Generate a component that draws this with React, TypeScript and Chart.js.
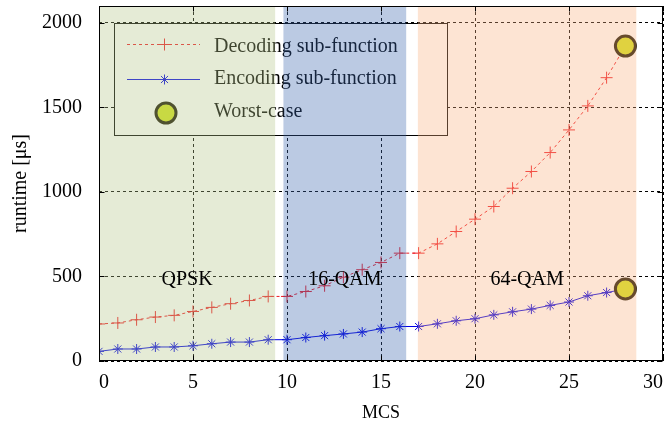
import React, { useEffect, useRef } from 'react';
import { Chart, registerables } from 'chart.js';

Chart.register(...registerables);

// ---- data ----
const mcs = [0, 1, 2, 3, 4, 5, 6, 7, 8, 9, 10, 11, 12, 13, 14, 15, 16, 17, 18, 19, 20, 21, 22, 23, 24, 25, 26, 27, 28];
const decoding = [219, 225, 244, 260, 270, 293, 317, 339, 358, 382, 382, 411, 445, 496, 540, 583, 638, 638, 693, 766, 839, 914, 1022, 1121, 1233, 1367, 1509, 1676, 1863];
const encoding = [57, 71, 71, 83, 83, 90, 102, 112, 112, 126, 126, 139, 150, 160, 171, 191, 204, 204, 220, 238, 250, 273, 291, 307, 329, 349, 386, 405, 426];
const worstX = [28, 28];
const worstY = [1863, 426];

const regionNames = ['QPSK', '16-QAM', '64-QAM'];
const regionStart = [0, 9.81, 16.96];
const regionEnd = [9.37, 16.34, 28.58];

const legendLabels = ['Decoding sub-function', 'Encoding sub-function', 'Worst-case'];
const xTicks = [0, 5, 10, 15, 20, 25, 30];
const yTicks = [0, 500, 1000, 1500, 2000];
const xMin = 0;
const xMax = 30;
const yMin = 0;
const yMax = 2100;

// ---- styles ----
const FONT = "'Liberation Serif', 'Times New Roman', serif";
const regionColors = ['rgb(181,198,138)', 'rgb(60,104,175)', 'rgb(250,178,130)'];
const OVERLAY_ALPHA = 0.35;
const REGION_LABEL_VALUE = 480;
const RED = '#ee1c25';
const BLUE = '#0000e6';
const YELLOW = '#d3e31e';
const DARK = '#1a1400';

function drawCross(ctx: CanvasRenderingContext2D, x: number, y: number, r: number) {
  ctx.beginPath();
  ctx.moveTo(x - r, y);
  ctx.lineTo(x + r, y);
  ctx.moveTo(x, y - r);
  ctx.lineTo(x, y + r);
  ctx.stroke();
}

function drawStar(ctx: CanvasRenderingContext2D, x: number, y: number, r: number) {
  drawCross(ctx, x, y, r);
  const d = r * Math.SQRT1_2;
  ctx.beginPath();
  ctx.moveTo(x - d, y - d);
  ctx.lineTo(x + d, y + d);
  ctx.moveTo(x - d, y + d);
  ctx.lineTo(x + d, y - d);
  ctx.stroke();
}

const overlayPlugin = {
  id: 'overlayPlugin',
  afterDraw(chart: any) {
    const { ctx, chartArea: a, scales } = chart;
    const xs = scales.x;
    const ys = scales.y;
    ctx.save();

    // legend box (white, under the translucent patches)
    const L = { left: 114, top: 23, right: 447, bottom: 135 };
    ctx.fillStyle = '#ffffff';
    ctx.fillRect(L.left, L.top, L.right - L.left, L.bottom - L.top);
    ctx.strokeStyle = '#000';
    ctx.lineWidth = 1;
    ctx.setLineDash([]);
    ctx.strokeRect(L.left + 0.5, L.top + 0.5, L.right - L.left, L.bottom - L.top);

    const rowY = [44, 79, 113];
    const textY = [47, 79, 112];
    ctx.strokeStyle = RED;
    ctx.lineWidth = 1;
    ctx.setLineDash([3, 3]);
    ctx.beginPath();
    ctx.moveTo(127, rowY[0] + 0.5);
    ctx.lineTo(200, rowY[0] + 0.5);
    ctx.stroke();
    ctx.setLineDash([]);
    drawCross(ctx, 164.5, rowY[0] + 0.5, 6);
    ctx.strokeStyle = BLUE;
    ctx.beginPath();
    ctx.moveTo(127, rowY[1] + 0.5);
    ctx.lineTo(200, rowY[1] + 0.5);
    ctx.stroke();
    drawStar(ctx, 164.5, rowY[1] + 0.5, 5);
    ctx.beginPath();
    ctx.arc(166, rowY[2], 10, 0, Math.PI * 2);
    ctx.fillStyle = YELLOW;
    ctx.fill();
    ctx.lineWidth = 3;
    ctx.strokeStyle = DARK;
    ctx.stroke();

    ctx.fillStyle = '#000';
    ctx.font = `20px ${FONT}`;
    ctx.textAlign = 'left';
    ctx.textBaseline = 'middle';
    legendLabels.forEach((t, i) => ctx.fillText(t, 214, textY[i]));

    // translucent modulation regions
    ctx.globalAlpha = OVERLAY_ALPHA;
    regionNames.forEach((_, i) => {
      const x0 = Math.max(a.left, xs.getPixelForValue(regionStart[i]));
      const x1 = Math.min(a.right, xs.getPixelForValue(regionEnd[i]));
      ctx.fillStyle = regionColors[i];
      ctx.fillRect(x0, a.top, x1 - x0, a.bottom - a.top);
    });
    ctx.globalAlpha = 1;

    // region labels
    ctx.fillStyle = '#000';
    ctx.font = `20px ${FONT}`;
    ctx.textAlign = 'center';
    ctx.textBaseline = 'middle';
    regionNames.forEach((name, i) => {
      const cx = xs.getPixelForValue((regionStart[i] + regionEnd[i]) / 2);
      ctx.fillText(name, cx, ys.getPixelForValue(REGION_LABEL_VALUE));
    });

    // frame
    ctx.strokeStyle = '#000';
    ctx.lineWidth = 1;
    ctx.setLineDash([]);
    const l = Math.round(a.left) + 0.5;
    const r = Math.round(a.right) - 0.5;
    const t = Math.round(a.top) + 0.5;
    const b = Math.round(a.bottom) - 0.5;
    ctx.strokeRect(l, t, r - l, b - t);

    // inward tick marks
    const TL = 5;
    ctx.beginPath();
    xTicks.forEach((v) => {
      const px = Math.round(xs.getPixelForValue(v)) + 0.5;
      ctx.moveTo(px, b);
      ctx.lineTo(px, b - TL);
      ctx.moveTo(px, t);
      ctx.lineTo(px, t + TL);
    });
    yTicks.forEach((v) => {
      const py = Math.round(ys.getPixelForValue(v)) + 0.5;
      ctx.moveTo(l, py);
      ctx.lineTo(l + TL, py);
      ctx.moveTo(r, py);
      ctx.lineTo(r - TL, py);
    });
    ctx.stroke();

    ctx.restore();
  },
};

export default function App() {
  const canvasRef = useRef<HTMLCanvasElement | null>(null);

  useEffect(() => {
    const canvas = canvasRef.current;
    if (!canvas) return;
    const chart = new Chart(canvas, {
      type: 'line',
      data: {
        datasets: [
          {
            label: legendLabels[2],
            data: worstX.map((x, i) => ({ x, y: worstY[i] })),
            showLine: false,
            pointStyle: 'circle',
            pointRadius: 10,
            pointBackgroundColor: YELLOW,
            pointBorderColor: DARK,
            pointBorderWidth: 3,
            order: 0,
          },
          {
            label: legendLabels[0],
            data: mcs.map((x, i) => ({ x, y: decoding[i] })),
            borderColor: RED,
            borderWidth: 1,
            borderDash: [3, 3],
            pointStyle: 'cross',
            pointRadius: 6,
            pointBorderColor: RED,
            pointBorderWidth: 1,
            fill: false,
            tension: 0,
            order: 1,
          },
          {
            label: legendLabels[1],
            data: mcs.map((x, i) => ({ x, y: encoding[i] })),
            borderColor: BLUE,
            borderWidth: 1,
            pointStyle: 'star',
            pointRadius: 5,
            pointBorderColor: BLUE,
            pointBorderWidth: 1,
            fill: false,
            tension: 0,
            order: 2,
          },
        ],
      },
      options: {
        animation: false,
        responsive: false,
        maintainAspectRatio: false,
        layout: { autoPadding: false, padding: { top: 6, right: 5, left: 0, bottom: 0 } },
        plugins: {
          legend: { display: false },
          tooltip: { enabled: false },
        },
        scales: {
          x: {
            type: 'linear',
            min: xMin,
            max: xMax,
            afterBuildTicks: (s: any) => {
              s.ticks = xTicks.map((v) => ({ value: v }));
            },
            afterFit: (s: any) => {
              s.height = 64;
              s.paddingLeft = 0;
              s.paddingRight = 0;
            },
            ticks: {
              autoSkip: false,
              align: 'inner',
              color: '#000',
              font: { family: FONT, size: 20 },
              padding: 10,
              maxRotation: 0,
              callback: (v: any) => String(v),
            },
            grid: { color: '#000', lineWidth: 1, drawTicks: false },
            border: { display: false, dash: [3, 3] },
            title: {
              display: true,
              text: 'MCS',
              color: '#000',
              font: { family: FONT, size: 18 },
              padding: { top: 0, bottom: 1 },
            },
          },
          y: {
            type: 'linear',
            min: yMin,
            max: yMax,
            afterBuildTicks: (s: any) => {
              s.ticks = yTicks.map((v) => ({ value: v }));
            },
            afterFit: (s: any) => {
              s.width = 99;
              s.paddingTop = 0;
              s.paddingBottom = 0;
            },
            ticks: {
              autoSkip: false,
              color: '#000',
              font: { family: FONT, size: 20 },
              padding: 17,
              callback: (v: any) => String(v),
            },
            grid: { color: '#000', lineWidth: 1, drawTicks: false },
            border: { display: false, dash: [3, 3] },
            title: {
              display: true,
              text: 'runtime [μs]',
              color: '#000',
              font: { family: FONT, size: 20 },
              padding: { top: 9, bottom: 0 },
            },
          },
        },
      },
      plugins: [overlayPlugin],
    } as any);
    return () => chart.destroy();
  }, []);

  return (
    <div style={{ position: 'absolute', left: 0, top: 0, width: 668, height: 425, background: '#fff' }}>
      <canvas ref={canvasRef} width={668} height={425} style={{ display: 'block' }} />
    </div>
  );
}
